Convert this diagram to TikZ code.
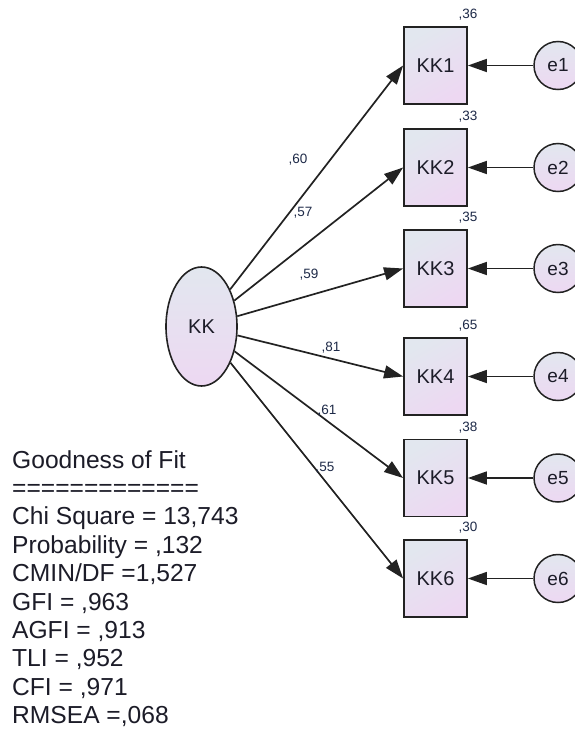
\documentclass[tikz,border=0pt]{standalone}
\usepackage{fontspec}
\setmainfont{Liberation Sans}
\usetikzlibrary{arrows.meta,shapes.geometric}
\definecolor{ink}{HTML}{1C1C28}
\definecolor{lineink}{HTML}{222222}
\definecolor{fillA}{HTML}{E2E7EF}
\definecolor{fillB}{HTML}{EDD8F2}
\definecolor{numink}{HTML}{1E2A48}
\tikzset{
  obsbox/.style={draw=lineink, line width=1.8pt, minimum width=63pt, minimum height=77pt,
    inner sep=0pt, top color=fillA, bottom color=fillB, shading angle=30,
    text=ink, font=\fontsize{20}{20}\selectfont},
  errcirc/.style={circle, draw=lineink, line width=1.5pt, minimum size=48pt, inner sep=0pt,
    top color=fillA, bottom color=fillB, text=ink, font=\fontsize{19}{20}\selectfont},
  latent/.style={ellipse, draw=lineink, line width=1.6pt, minimum width=71pt, minimum height=119pt,
    inner sep=0pt, top color=fillA, bottom color=fillB, text=ink, font=\fontsize{20}{20}\selectfont},
  path/.style={draw=lineink, line width=1.7pt, -{Triangle[length=19pt,width=13pt]}},
  coef/.style={text=numink, font=\fontsize{13.5}{14}\selectfont, inner sep=0pt},
  fitline/.style={anchor=base west, text=ink, font=\fontsize{24.6}{28}\selectfont, inner sep=0pt}
}
\begin{document}
\begin{tikzpicture}[x=1pt,y=-1pt]
\useasboundingbox (0,0) rectangle (574,731);
\fill[white] (0,0) rectangle (574,731);

% latent factor
\node[latent] (KK) at (201.5,326.5) {KK};

% indicators, their error terms and squared multiple correlations
\foreach \i/\yy/\rr in {1/65.5/{,36}, 2/167.5/{,33}, 3/268.5/{,35}, 4/376.5/{,65}, 5/478/{,38}, 6/578.5/{,30}}{
  \node[obsbox] (KK\i) at (435.5,\yy) {KK\i};
  \node[errcirc] (e\i) at (558,\yy) {e\i};
  \node[coef] (r\i) at ([yshift=11pt]KK\i.north east) {\rr};
  \draw[path] (e\i) -- (KK\i);
}

% loadings
\draw[path] (KK) -- (KK1.west);
\draw[path] (KK) -- (KK2.west);
\draw[path] (KK) -- (KK3.west);
\draw[path] (KK) -- (KK4.west);
\draw[path] (KK) -- (KK5.west);
\draw[path] (KK) -- (KK6.west);
\node[coef] (l1) at (298,160) {,60};
\node[coef] (l2) at (303,213) {,57};
\node[coef] (l3) at (309,275) {,59};
\node[coef] (l4) at (331,348) {,81};
\node[coef] (l5) at (327,411) {,61};
\node[coef] (l6) at (325,468) {,55};

% fit summary
\node[fitline] (f1) at (12,468) {Goodness of Fit};
\node[fitline] (f2) at (12,496.4) {=============};
\node[fitline] (f3) at (12,524.8) {Chi Square = 13,743};
\node[fitline] (f4) at (12,553.2) {Probability = ,132};
\node[fitline] (f5) at (12,581.6) {CMIN/DF =1,527};
\node[fitline] (f6) at (12,610) {GFI = ,963};
\node[fitline] (f7) at (12,638.4) {AGFI = ,913};
\node[fitline] (f8) at (12,666.8) {TLI = ,952};
\node[fitline] (f9) at (12,695.2) {CFI = ,971};
\node[fitline] (f10) at (12,723.6) {RMSEA =,068};
\end{tikzpicture}
\end{document}
